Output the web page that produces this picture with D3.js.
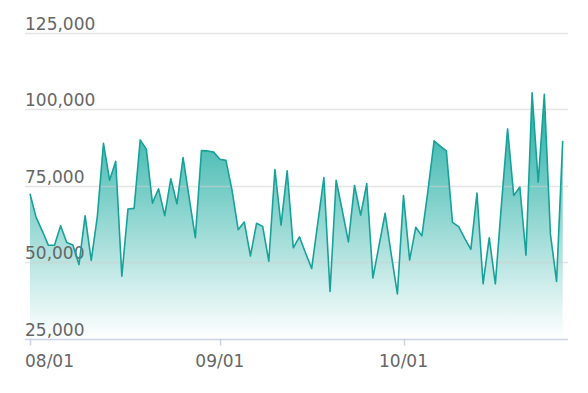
<!DOCTYPE html>
<html>
<head>
<meta charset="utf-8">
<script src="https://cdn.jsdelivr.net/npm/d3@7"></script>
<style>
  body { margin: 0; background: #fff; }
  svg { display: block; font-family: "DejaVu Sans", sans-serif; }
</style>
</head>
<body>
<script>
// daily values, 08/01 .. 10/27
var startDate = "2023-08-01";
var values = [
  72400, 64650, 60250, 55500, 55500, 61900, 56400, 55600, 49200, 65200,
  50550, 65000, 88900, 76800, 83000, 45400, 67400, 67600, 90000, 87000,
  69300, 74000, 65200, 77300, 69100, 84200, 71000, 58000, 86500, 86400,
  86000, 83700, 83300, 73500, 60600, 63100, 52000, 62700, 61700, 50300,
  80300, 62100, 79900, 54700, 58300, 53000, 47900, 62800, 77700, 40400,
  76800, 66900, 56600, 75100, 65400, 75700, 44800, 55400, 66000, 52500,
  39600, 71800, 50700, 61400, 58600, 73500, 89700, 88000, 86400, 63000,
  61600, 57800, 54200, 72600, 42900, 58000, 42900, 69000, 93600, 71800,
  74600, 52300, 105400, 76200, 104900, 59100, 43700, 89700
];
var yTicks = [25000, 50000, 75000, 100000, 125000];
var xTicks = ["2023-08-01", "2023-09-01", "2023-10-01"];

var width = 588, height = 393;
var gridLeft = 25, gridRight = 568;

var parse = d3.timeParse("%Y-%m-%d");
var t0 = parse(startDate);
var data = values.map(function(v, i) {
  return { date: d3.timeDay.offset(t0, i), value: v };
});

var x = d3.scaleTime()
    .domain(d3.extent(data, function(d) { return d.date; }))
    .range([30, 562.7]);

var y = d3.scaleLinear()
    .domain([25000, 125000])
    .range([338.5, 33]);

var svg = d3.select("body").append("svg")
    .attr("width", width)
    .attr("height", height);

var grad = svg.append("defs").append("linearGradient")
    .attr("id", "fill")
    .attr("x1", 0).attr("y1", 0)
    .attr("x2", 0).attr("y2", 1);
grad.append("stop").attr("offset", "0%").attr("stop-color", "#1eaca2");
grad.append("stop").attr("offset", "100%").attr("stop-color", "#ffffff");

// area + line
var area = d3.area()
    .x(function(d) { return x(d.date); })
    .y0(y(25000))
    .y1(function(d) { return y(d.value); });

var line = d3.line()
    .x(function(d) { return x(d.date); })
    .y(function(d) { return y(d.value); });

svg.append("path")
    .datum(data)
    .attr("d", area)
    .attr("fill", "url(#fill)");

// grid lines over the fill, then y labels
var grid = svg.append("g");
grid.selectAll("line")
    .data(yTicks.slice(1))
  .enter().append("line")
    .attr("x1", gridLeft).attr("x2", gridRight)
    .attr("y1", function(d) { return Math.round(y(d)) + 0.5; })
    .attr("y2", function(d) { return Math.round(y(d)) + 0.5; })
    .attr("stroke", "#cfcfcf")
    .attr("stroke-opacity", 0.55)
    .attr("stroke-width", 1.5);

svg.append("path")
    .datum(data)
    .attr("d", line)
    .attr("fill", "none")
    .attr("stroke", "#16a299")
    .attr("stroke-width", 1.6)
    .attr("stroke-linejoin", "round");

grid.selectAll("text")
    .data(yTicks)
  .enter().append("text")
    .attr("x", gridLeft)
    .attr("y", function(d) { return y(d) - 3; })
    .attr("fill", "#666")
    .attr("font-size", 17)
    .text(d3.format(","));

// x axis
var ax = svg.append("g");
ax.append("line")
    .attr("x1", gridLeft).attr("x2", gridRight)
    .attr("y1", Math.round(y(25000)) + 0.5).attr("y2", Math.round(y(25000)) + 0.5)
    .attr("stroke", "#ccd3e4")
    .attr("stroke-width", 1.5);

var tickDates = xTicks.map(parse);
ax.selectAll(".tick")
    .data(tickDates)
  .enter().append("line")
    .attr("class", "tick")
    .attr("x1", function(d) { return Math.round(x(d)) + 0.5; })
    .attr("x2", function(d) { return Math.round(x(d)) + 0.5; })
    .attr("y1", y(25000)).attr("y2", y(25000) + 7)
    .attr("stroke", "#ccd3e4")
    .attr("stroke-width", 1.5);

ax.selectAll(".lbl")
    .data(tickDates)
  .enter().append("text")
    .attr("class", "lbl")
    .attr("x", function(d, i) { return i === 0 ? x(d) - 5 : x(d); })
    .attr("y", 367)
    .attr("text-anchor", function(d, i) { return i === 0 ? "start" : "middle"; })
    .attr("fill", "#666")
    .attr("font-size", 17)
    .text(d3.timeFormat("%m/%d"));
</script>
</body>
</html>
